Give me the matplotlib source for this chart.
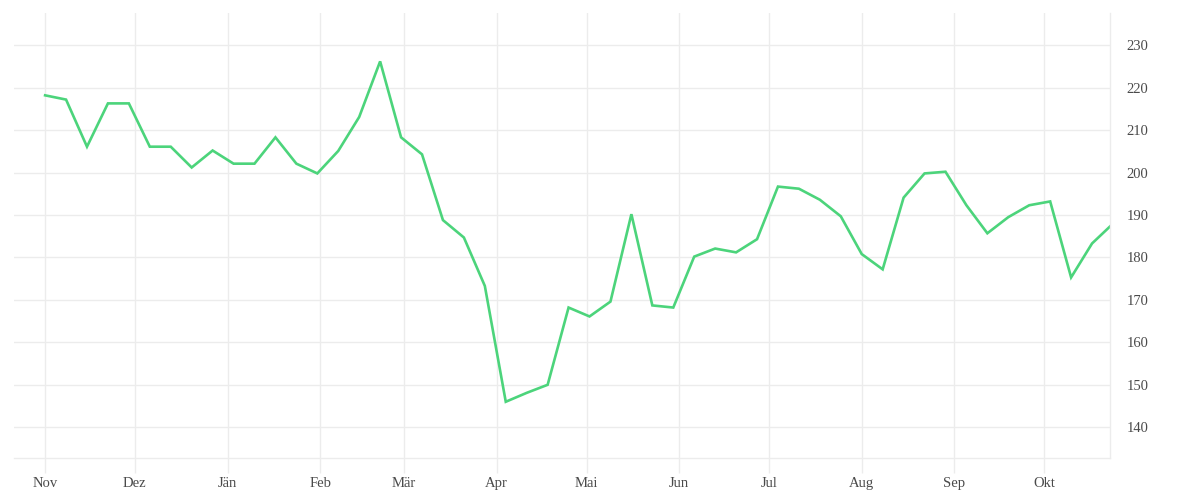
import matplotlib
matplotlib.use("Agg")
import matplotlib.pyplot as plt
import pandas as pd

# weekly observations, last point is a partial week
weeks = list(pd.date_range("2018-11-01", periods=51, freq="7D")) + [pd.Timestamp("2019-10-23")]
values = [
    218.2, 217.2, 206.1, 216.3, 216.3, 206.1, 206.1, 201.2, 205.2, 202.1,
    202.1, 208.3, 202.1, 199.8, 205.1, 213.1, 226.2, 208.3, 204.3, 188.8,
    184.7, 173.3, 146.0, 148.1, 150.0, 168.2, 166.1, 169.6, 190.2, 168.7,
    168.2, 180.2, 182.1, 181.2, 184.3, 196.7, 196.2, 193.6, 189.7, 180.8,
    177.2, 194.1, 199.8, 200.2, 192.3, 185.7, 189.5, 192.3, 193.2, 175.3,
    183.3, 187.3,
]
month_starts = list(pd.date_range("2018-11-01", periods=12, freq="MS"))
month_labels = ["Nov", "Dez", "Jän", "Feb", "Mär", "Apr",
                "Mai", "Jun", "Jul", "Aug", "Sep", "Okt"]
y_ticks = [140, 150, 160, 170, 180, 190, 200, 210, 220, 230]

grid_color = "#ececec"
text_color = "#4a4a4a"
plt.rcParams["font.family"] = ["Liberation Serif", "DejaVu Serif"]

fig = plt.figure(figsize=(12, 5), dpi=100)
ax = fig.add_axes([14 / 1200, 42 / 500, 1096 / 1200, 445 / 500])

ax.plot(weeks, values, color="#4cd47b", linewidth=1.9, solid_joinstyle="miter")

ax.set_xlim(pd.Timestamp("2018-11-01") - pd.Timedelta(days=10.4), weeks[-1])
ax.set_ylim(132.75, 237.6)

ax.set_xticks(month_starts)
ax.set_xticklabels(month_labels)
ax.set_yticks(y_ticks)
ax.yaxis.tick_right()

ax.grid(True, color=grid_color, linewidth=1)
ax.set_axisbelow(True)
for side in ["top", "left"]:
    ax.spines[side].set_visible(False)
for side in ["bottom", "right"]:
    ax.spines[side].set_color(grid_color)
    ax.spines[side].set_linewidth(1)

ax.tick_params(axis="x", length=11, width=1, color=grid_color, pad=3,
               labelsize=10.5, labelcolor=text_color)
ax.tick_params(axis="y", length=0, pad=12, labelsize=10.5, labelcolor=text_color)
for lbl in ax.get_yticklabels():
    lbl.set_horizontalalignment("left")

fig.savefig("out.png", dpi=100, facecolor="white")
